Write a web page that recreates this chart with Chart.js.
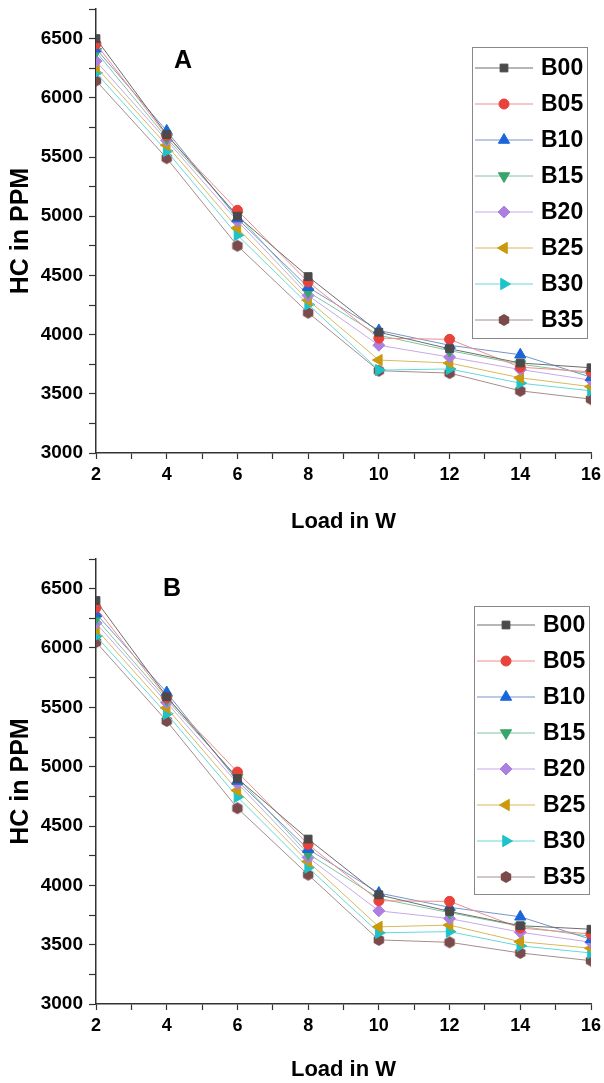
<!DOCTYPE html>
<html>
<head>
<meta charset="utf-8">
<script src="https://cdn.jsdelivr.net/npm/chart.js@4.4.1/dist/chart.umd.min.js"></script>
<style>
  html, body { margin: 0; padding: 0; background: #fff; }
  .panel { position: absolute; left: 0; width: 604px; }
</style>
</head>
<body>
<div class="panel" style="top:0;height:535px"><canvas id="chA"></canvas></div>
<div class="panel" style="top:541px;height:542px"><canvas id="chB"></canvas></div>
<script>
/* HC (ppm) vs load (W) for the eight blends, panels A and B */

const loads = [2, 4, 6, 8, 10, 12, 14, 16];
const blends = ['B00', 'B05', 'B10', 'B15', 'B20', 'B25', 'B30', 'B35'];
const yTicksMin = 3000, yTicksMax = 6750;

// Panel A
const A_B00 = [6500, 5690, 5000, 4490, 4020, 3880, 3760, 3720];
const A_B05 = [6455, 5680, 5050, 4445, 3970, 3960, 3725, 3685];
const A_B10 = [6415, 5720, 4980, 4400, 4035, 3910, 3830, 3640];
const A_B15 = [6390, 5660, 5010, 4360, 3995, 3865, 3750, 3670];
const A_B20 = [6310, 5640, 4960, 4330, 3910, 3810, 3705, 3615];
const A_B25 = [6260, 5600, 4900, 4290, 3785, 3760, 3635, 3560];
const A_B30 = [6210, 5550, 4840, 4255, 3700, 3710, 3590, 3525];
const A_B35 = [6145, 5490, 4750, 4185, 3695, 3675, 3525, 3455];

// Panel B
const B_B00 = [6400, 5590, 4900, 4390, 3920, 3780, 3660, 3630];
const B_B05 = [6340, 5580, 4955, 4345, 3870, 3865, 3640, 3590];
const B_B10 = [6290, 5625, 4880, 4305, 3935, 3815, 3735, 3545];
const B_B15 = [6250, 5565, 4910, 4265, 3890, 3770, 3655, 3570];
const B_B20 = [6210, 5540, 4860, 4235, 3785, 3720, 3605, 3520];
const B_B25 = [6160, 5495, 4800, 4200, 3650, 3665, 3525, 3470];
const B_B30 = [6100, 5445, 4745, 4150, 3600, 3610, 3490, 3430];
const B_B35 = [6050, 5385, 4650, 4090, 3540, 3520, 3430, 3365];

const FONT = '"Liberation Sans", Arial, sans-serif';

function hexMarker(color, r) {
  const c = document.createElement('canvas');
  const s = Math.ceil(r * 2 + 2);
  c.width = c.height = s;
  const g = c.getContext('2d');
  g.fillStyle = color;
  g.beginPath();
  for (let k = 0; k < 6; k++) {
    const a = -Math.PI / 2 + k * Math.PI / 3;
    const px = s / 2 + Math.cos(a) * r, py = s / 2 + Math.sin(a) * r;
    k ? g.lineTo(px, py) : g.moveTo(px, py);
  }
  g.closePath();
  g.fill();
  return c;
}

// marker colour, line colour, point style, rotation, radius
const styles = [
  ['#4a4a4a', '#6e6e6e', 'rect', 0, 5.5],
  ['#e8423b', '#ec8f8b', 'circle', 0, 5],
  ['#1a66d9', '#7595cc', 'triangle', 0, 6.5],
  ['#38a56a', '#82c4a0', 'triangle', 180, 6.5],
  ['#ad7fe0', '#c7a9e8', 'rectRot', 0, 6],
  ['#c99a0c', '#d9b95a', 'triangle', -90, 6.5],
  ['#1cc3c9', '#66d8dc', 'triangle', 90, 6.5],
  ['#7b4b4b', '#a78c8c', null, 0, 6]
];

function buildDatasets(rows) {
  return rows.map((vals, i) => {
    const [mc, lc, ps, rot, r] = styles[i];
    return {
      label: blends[i],
      data: loads.map((x, j) => ({ x, y: vals[j] })),
      borderColor: lc,
      borderWidth: 1,
      pointStyle: ps || hexMarker(mc, r),
      pointRotation: rot,
      pointRadius: r,
      pointHoverRadius: r,
      pointBackgroundColor: mc,
      pointBorderColor: mc,
      pointBorderWidth: 1,
      clip: 0
    };
  });
}

const panelDecor = {
  id: 'panelDecor',
  afterDraw(chart, args, o) {
    const ctx = chart.ctx;
    ctx.save();
    ctx.fillStyle = '#000';
    ctx.textAlign = 'center';
    ctx.textBaseline = 'middle';
    ctx.font = 'bold 25px ' + FONT;
    ctx.fillText(o.letter, o.letterX, o.letterY);

    // legend box
    const b = o.box;
    ctx.fillStyle = '#fff';
    ctx.fillRect(b.x, b.y, b.w, b.h);
    ctx.strokeStyle = '#888';
    ctx.lineWidth = 1;
    ctx.strokeRect(b.x + 0.5, b.y + 0.5, b.w, b.h);
    chart.data.datasets.forEach((ds, i) => {
      const cy = b.y + b.first + i * b.gap;
      ctx.strokeStyle = ds.borderColor;
      ctx.lineWidth = 1;
      ctx.beginPath();
      ctx.moveTo(b.x + 3, cy);
      ctx.lineTo(b.x + 61, cy);
      ctx.stroke();
      ctx.fillStyle = ds.pointBackgroundColor;
      ctx.strokeStyle = ds.pointBorderColor;
      Chart.helpers.drawPoint(ctx, {
        pointStyle: ds.pointStyle, radius: ds.pointRadius,
        rotation: ds.pointRotation, borderWidth: 1
      }, b.x + 32, cy);
      ctx.fillStyle = '#000';
      ctx.textAlign = 'left';
      ctx.font = 'bold 23px ' + FONT;
      ctx.fillText(ds.label, b.x + 69, cy + 1);
    });
    ctx.restore();
  }
};

function makeChart(id, rows, deco, plotTop, plotBottom, boxH) {
  return new Chart(document.getElementById(id), {
    type: 'line',
    data: { datasets: buildDatasets(rows) },
    options: {
      responsive: true,
      maintainAspectRatio: false,
      animation: false,
      layout: { padding: { left: 0, right: 13, top: plotTop, bottom: 0 } },
      plugins: {
        legend: { display: false },
        tooltip: { enabled: false },
        panelDecor: deco
      },
      scales: {
        x: {
          type: 'linear', min: 2, max: 16,
          afterFit: s => { s.height = boxH - plotBottom; s.paddingLeft = 0; s.paddingRight = 0; },
          ticks: {
            stepSize: 1, autoSkip: false, maxRotation: 0, padding: 5,
            color: '#000', font: { family: FONT, size: 18, weight: 'bold' },
            callback: v => (v % 2 === 0 ? v : '')
          },
          grid: { drawOnChartArea: false, tickLength: 6, tickColor: '#333', tickWidth: 1.2 },
          border: { color: '#333', width: 1.5 },
          title: {
            display: true, text: 'Load in W', color: '#000',
            font: { family: FONT, size: 22, weight: 'bold' },
            padding: { top: 0, bottom: 0 }
          }
        },
        y: {
          min: yTicksMin, max: yTicksMax,
          afterFit: s => { s.width = 96; s.paddingTop = 0; s.paddingBottom = 0; },
          ticks: {
            stepSize: 250, autoSkip: false, padding: 6,
            color: '#000', font: { family: FONT, size: 19, weight: 'bold' },
            callback: v => (v % 500 === 0 ? v : '')
          },
          grid: { drawOnChartArea: false, tickLength: 7, tickColor: '#333', tickWidth: 1.2 },
          border: { color: '#333', width: 1.5 },
          title: {
            display: true, text: 'HC in PPM', color: '#000',
            font: { family: FONT, size: 25, weight: 'bold' },
            padding: { top: 6, bottom: 4 }
          }
        }
      }
    },
    plugins: [panelDecor]
  });
}

makeChart('chA', [A_B00, A_B05, A_B10, A_B15, A_B20, A_B25, A_B30, A_B35],
  { letter: 'A', letterX: 183, letterY: 61,
    box: { x: 472, y: 47, w: 115, h: 291, first: 21, gap: 36 } },
  9, 453, 535);

makeChart('chB', [B_B00, B_B05, B_B10, B_B15, B_B20, B_B25, B_B30, B_B35],
  { letter: 'B', letterX: 172, letterY: 48,
    box: { x: 474, y: 65, w: 115, h: 288, first: 19, gap: 36 } },
  18, 463, 542);
</script>
</body>
</html>
